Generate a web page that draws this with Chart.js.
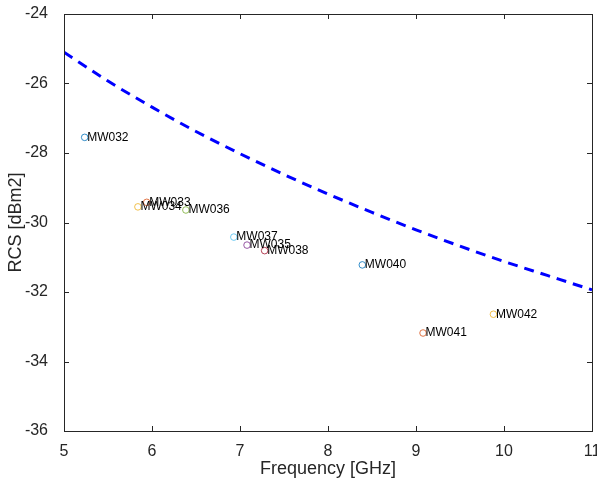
<!DOCTYPE html>
<html>
<head>
<meta charset="utf-8">
<script src="https://cdn.jsdelivr.net/npm/chart.js@4.4.1/dist/chart.umd.min.js"></script>
<style>
  html, body { margin: 0; padding: 0; background: #fff; }
  #rcsChart { display: block; }
</style>
</head>
<body>
<canvas id="rcsChart" width="597" height="483"></canvas>
<script>
// measured targets
const targetNames = ['MW032', 'MW033', 'MW034', 'MW035', 'MW036', 'MW037', 'MW038', 'MW040', 'MW041', 'MW042'];
const targetFreq = [5.235, 5.94, 5.84, 7.08, 6.385, 6.93, 7.28, 8.39, 9.08, 9.88];
const targetRcs = [-27.55, -29.42, -29.55, -30.65, -29.64, -30.42, -30.81, -31.22, -33.18, -32.64];

// reference curve (dashed)
const refFreq = [5, 5.5, 6, 6.5, 7, 7.5, 8, 8.5, 9, 9.5, 10, 10.5, 11];
const refRcs = [-25.1, -25.93, -26.68, -27.38, -28.02, -28.62, -29.18, -29.71, -30.21, -30.68, -31.12, -31.53, -31.94];

// axis ticks
const xTicks = [5, 6, 7, 8, 9, 10, 11];
const yTicks = [-36, -34, -32, -30, -28, -26, -24];

// matlab default color order
const colorOrder = ['#0072BD', '#D95319', '#EDB120', '#7E2F8E', '#77AC30', '#4DBEEE', '#A2142F'];
const markerColors = targetNames.map((_, i) => colorOrder[i % colorOrder.length]);

const axisColor = '#262626';
const fontFamily = '"Liberation Sans", Arial, Helvetica, sans-serif';

const canvas = document.getElementById('rcsChart');
const ctx = canvas.getContext('2d');

// box around the axes with inward ticks on all four sides
const boxTicks = {
    id: 'boxTicks',
    afterDraw(chart) {
        const { ctx, chartArea: a, scales } = chart;
        const len = 5;
        ctx.save();
        ctx.strokeStyle = axisColor;
        ctx.lineWidth = 1;
        ctx.strokeRect(a.left + 0.5, a.top + 0.5, a.right - a.left, a.bottom - a.top);
        ctx.beginPath();
        xTicks.forEach(v => {
            const x = Math.round(scales.x.getPixelForValue(v)) + 0.5;
            ctx.moveTo(x, a.bottom); ctx.lineTo(x, a.bottom - len);
            ctx.moveTo(x, a.top); ctx.lineTo(x, a.top + len);
        });
        yTicks.forEach(v => {
            const y = Math.round(scales.y.getPixelForValue(v)) + 0.5;
            ctx.moveTo(a.left, y); ctx.lineTo(a.left + len, y);
            ctx.moveTo(a.right, y); ctx.lineTo(a.right - len, y);
        });
        ctx.stroke();
        ctx.restore();
    }
};

// target names next to each marker
const pointLabels = {
    id: 'pointLabels',
    afterDatasetsDraw(chart) {
        const { ctx } = chart;
        const meta = chart.getDatasetMeta(1);
        ctx.save();
        ctx.font = '12px ' + fontFamily;
        ctx.fillStyle = '#000';
        ctx.textAlign = 'left';
        ctx.textBaseline = 'middle';
        meta.data.forEach((pt, i) => {
            ctx.fillText(targetNames[i], pt.x + 2.5, pt.y);
        });
        ctx.restore();
    }
};

new Chart(ctx, {
    type: 'scatter',
    data: {
        datasets: [
            {
                type: 'line',
                data: refFreq.map((f, i) => ({ x: f, y: refRcs[i] })),
                borderColor: '#0000FF',
                borderWidth: 3,
                borderDash: [10, 7],
                pointRadius: 0,
                fill: false,
                cubicInterpolationMode: 'monotone'
            },
            {
                data: targetFreq.map((f, i) => ({ x: f, y: targetRcs[i] })),
                pointStyle: 'circle',
                pointRadius: 3.3,
                pointBorderWidth: 0.8,
                pointBorderColor: markerColors,
                pointBackgroundColor: 'rgba(0,0,0,0)'
            }
        ]
    },
    options: {
        responsive: false,
        animation: false,
        layout: { padding: { top: 14, right: 5, left: 0, bottom: 0 } },
        plugins: {
            legend: { display: false },
            tooltip: { enabled: false }
        },
        scales: {
            x: {
                type: 'linear',
                min: 5,
                max: 11,
                afterBuildTicks(scale) { scale.ticks = xTicks.map(v => ({ value: v })); },
                afterFit(scale) {
                    scale.height = 52;
                    scale.paddingLeft = 0;
                    scale.paddingRight = 0;
                },
                grid: { display: false },
                border: { display: false },
                ticks: {
                    color: axisColor,
                    padding: 3,
                    font: { family: fontFamily, size: 16 },
                    maxRotation: 0
                },
                title: {
                    display: true,
                    text: 'Frequency [GHz]',
                    color: axisColor,
                    font: { family: fontFamily, size: 18 },
                    padding: { top: 0, bottom: 3 }
                }
            },
            y: {
                type: 'linear',
                min: -36,
                max: -24,
                afterBuildTicks(scale) { scale.ticks = yTicks.map(v => ({ value: v })); },
                afterFit(scale) {
                    scale.width = 64;
                    scale.paddingTop = 0;
                    scale.paddingBottom = 0;
                },
                grid: { display: false },
                border: { display: false },
                ticks: {
                    color: axisColor,
                    padding: 8,
                    font: { family: fontFamily, size: 16 }
                },
                title: {
                    display: true,
                    text: 'RCS [dBm2]',
                    color: axisColor,
                    font: { family: fontFamily, size: 18 },
                    padding: { top: 5, bottom: 0 }
                }
            }
        }
    },
    plugins: [boxTicks, pointLabels]
});
</script>
</body>
</html>
